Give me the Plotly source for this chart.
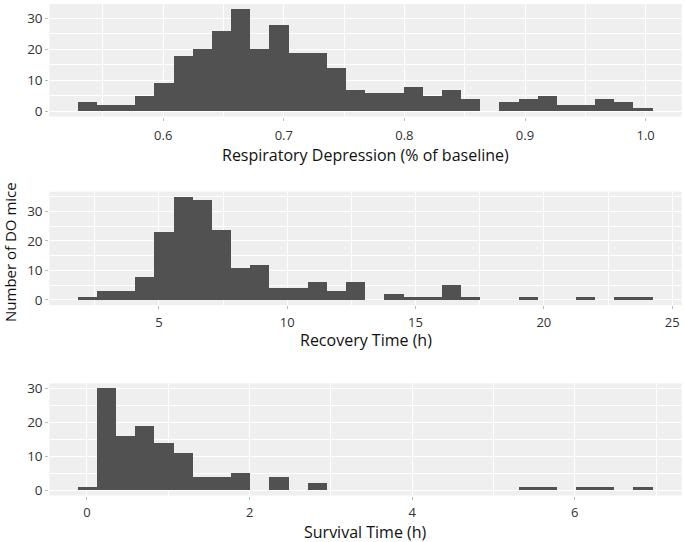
import plotly.graph_objects as go

# ---- data (histogram counts, 30 bins each) ----
resp_bin_start = 0.5294
resp_bin_width = 0.01589
resp_counts = [3, 2, 2, 5, 9, 18, 20, 26, 33, 20, 28, 19, 19, 14, 7,
               6, 6, 8, 5, 7, 4, 0, 3, 4, 5, 2, 2, 4, 3, 1]

rec_bin_start = 1.85
rec_bin_width = 0.7467
rec_counts = [1, 3, 3, 8, 23, 35, 34, 24, 11, 12, 4, 4, 6, 3, 6,
              0, 2, 1, 1, 5, 1, 0, 0, 1, 0, 0, 1, 0, 1, 1]

surv_bin_start = -0.11
surv_bin_width = 0.2357
surv_counts = [1, 30, 16, 19, 14, 11, 4, 4, 5, 0, 4, 0, 2, 0, 0,
               0, 0, 0, 0, 0, 0, 0, 0, 1, 1, 0, 1, 1, 0, 1]

resp_ticks = [0.6, 0.7, 0.8, 0.9, 1.0]
resp_ticklabels = ["0.6", "0.7", "0.8", "0.9", "1.0"]
rec_ticks = [5, 10, 15, 20, 25]
surv_ticks = [0, 2, 4, 6]
y_ticks = [0, 10, 20, 30]

titles = ["Respiratory Depression (% of baseline)", "Recovery Time (h)", "Survival Time (h)"]
y_title = "Number of DO mice"

FONT = "Open Sans"
BAR = "#515151"
PANEL = "#EFEFEF"
W, H = 685, 542


def centers(start, width, n):
    return [start + width * (i + 0.5) for i in range(n)]


def expand(lo, hi, f=0.05):
    d = (hi - lo) * f
    return [lo - d, hi + d]


def ydom(top_px, bottom_px):
    return [1 - bottom_px / H, 1 - top_px / H]


panels = [
    (resp_bin_start, resp_bin_width, resp_counts, resp_ticks, resp_ticklabels, 0.05, ydom(4, 116.5), 4),
    (rec_bin_start, rec_bin_width, rec_counts, rec_ticks, [str(t) for t in rec_ticks], 2.5, ydom(191.7, 305), 2),
    (surv_bin_start, surv_bin_width, surv_counts, surv_ticks, [str(t) for t in surv_ticks], 1, ydom(383.3, 495.5), 2),
]

fig = go.Figure()
layout = dict(
    width=W, height=H,
    margin=dict(l=0, r=0, t=0, b=0, autoexpand=False),
    paper_bgcolor="white",
    plot_bgcolor=PANEL,
    showlegend=False,
    bargap=0,
    font=dict(family=FONT, color="#222222"),
    template="none",
)

annotations = []
xdom = [49.3 / W, 681.7 / W]
for i, (start, width, counts, ticks, ticklabels, minor_dtick, yd, standoff) in enumerate(panels):
    n = len(counts)
    xs = centers(start, width, n)
    ax = "" if i == 0 else str(i + 1)
    fig.add_trace(go.Bar(
        x=xs, y=counts, width=[width] * n,
        marker=dict(color=BAR, line=dict(width=0)),
        xaxis="x" + ax, yaxis="y" + ax,
        hoverinfo="x+y",
    ))
    xr = expand(start, start + width * n)
    ymax = max(counts)
    yr = expand(0, ymax)
    layout["xaxis" + ax] = dict(
        domain=xdom, anchor="y" + ax, range=xr,
        tickmode="array", tickvals=ticks, ticktext=ticklabels,
        showgrid=True, gridcolor="white", gridwidth=1.1,
        minor=dict(showgrid=True, gridcolor="white", gridwidth=0.5, dtick=minor_dtick,
                   tick0=ticks[0]),
        ticks="outside", ticklen=3, tickcolor="#BBBBBB", tickwidth=1,
        ticklabelstandoff=standoff,
        tickfont=dict(size=13, color="#333333", family=FONT),
        zeroline=False, showline=False, automargin=False,
    )
    layout["yaxis" + ax] = dict(
        domain=yd, anchor="x" + ax, range=yr,
        tickmode="array", tickvals=y_ticks,
        showgrid=True, gridcolor="white", gridwidth=1.1,
        minor=dict(showgrid=True, gridcolor="white", gridwidth=0.5, dtick=5, tick0=5),
        ticks="outside", ticklen=3, tickcolor="#BBBBBB", tickwidth=1,
        tickfont=dict(size=13.5, color="#333333", family=FONT),
        zeroline=False, showline=False, automargin=False,
    )

title_y = [154.5, 340, 532]
for t, yp in zip(titles, title_y):
    annotations.append(dict(
        text=t, x=(xdom[0] + xdom[1]) / 2, y=1 - yp / H,
        xref="paper", yref="paper", showarrow=False,
        xanchor="center", yanchor="middle",
        font=dict(size=16, family=FONT, color="#111111"),
    ))
annotations.append(dict(
    text=y_title, x=10 / W, y=1 - 252 / H,
    xref="paper", yref="paper", showarrow=False, textangle=-90,
    xanchor="center", yanchor="middle",
    font=dict(size=15, family=FONT, color="#111111"),
))
layout["annotations"] = annotations
fig.update_layout(**layout)
fig.write_html(
    "out.html",
    config={"displayModeBar": False},
    post_script="document.body.style.margin='0';document.body.style.overflow='hidden';",
)
